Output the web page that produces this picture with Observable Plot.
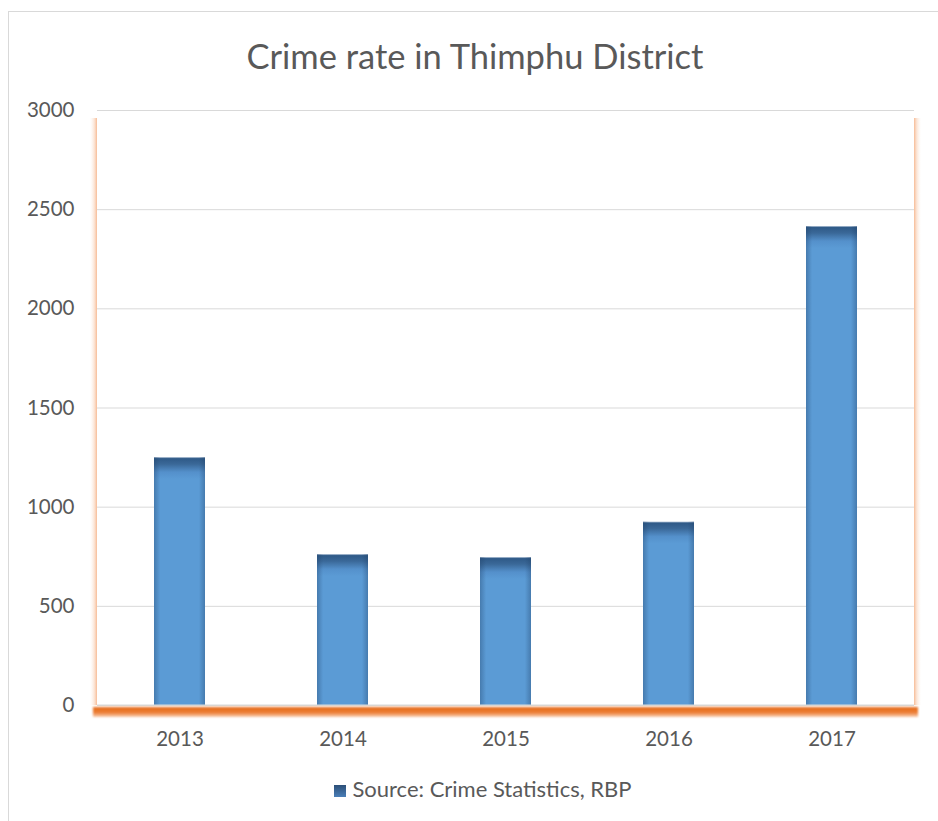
<!DOCTYPE html>
<html>
<head>
<meta charset="utf-8">
<script src="https://cdn.jsdelivr.net/npm/d3@7"></script>
<script src="https://cdn.jsdelivr.net/npm/@observablehq/plot@0.6"></script>
<style>
  html, body { margin:0; padding:0; background:#fff; width:938px; height:821px; overflow:hidden; }
  body { position:relative; font-family: Lato, "Open Sans", sans-serif; color:#595959; }
  #frame { position:absolute; left:8px; top:11px; width:960px; height:840px; border:1px solid #d9d9d9; box-sizing:border-box; }
  #title { position:absolute; left:0; top:0; width:950px; height:90px; text-align:center; line-height:112px; font-size:34.5px; color:#595959; }
  #chart { position:absolute; left:0; top:90px; }
  #legend { position:absolute; left:0; top:770px; width:966px; text-align:center; font-size:22px; color:#595959; line-height:38px; }
  #legend .sw { display:inline-block; width:12px; height:12px; background:linear-gradient(#2c4f78,#4a7fb8); margin-right:6px; vertical-align:0px; }
</style>
</head>
<body>
<div id="frame"></div>
<div id="title">Crime rate in Thimphu District</div>
<div id="chart"></div>
<div id="legend"><span class="sw"></span>Source: Crime Statistics, RBP</div>
<script>
const years = ["2013", "2014", "2015", "2016", "2017"];
const crimes = [1250, 761, 746, 925, 2415];
const yTicks = [0, 500, 1000, 1500, 2000, 2500, 3000];
const seriesName = "Source: Crime Statistics, RBP";

const data = years.map((y, i) => ({year: y, value: crimes[i]}));

function gradientBars(index, scales, values, dimensions, context, next) {
  const g = next(index, scales, values, dimensions, context);
  const defs = d3.select(g).insert("defs", ":first-child");
  d3.select(g).selectAll("rect").each(function(d, i) {
    const r = d3.select(this);
    const h = +r.attr("height");
    const id = "barg" + i;
    const lg = defs.append("linearGradient").attr("id", id).attr("x1", 0).attr("y1", 0).attr("x2", 0).attr("y2", 1);
    const stops = [[0, "#b9c9dc"], [1.5 / h, "#2f5a88"], [7 / h, "#3a6898"], [15 / h, "#5490cb"], [22 / h, "#5b9bd5"], [1, "#5b9bd5"]];
    stops.forEach(([o, c]) => lg.append("stop").attr("offset", Math.min(1, o)).attr("stop-color", c));
    r.attr("fill", `url(#${id})`);
    const x = +r.attr("x"), y = +r.attr("y"), w = +r.attr("width");
    const hg = defs.append("linearGradient").attr("id", id + "h").attr("x1", 0).attr("x2", 1).attr("y1", 0).attr("y2", 0);
    [[0, 0.35], [0.12, 0], [0.88, 0], [1, 0.35]].forEach(([o, a]) =>
      hg.append("stop").attr("offset", o).attr("stop-color", "#1f3f66").attr("stop-opacity", a));
    d3.select(g).append("rect").attr("x", x).attr("y", y).attr("width", w).attr("height", h).attr("fill", `url(#${id}h)`);
  });
  return g;
}

const plot = Plot.plot({
  width: 938,
  height: 680,
  marginTop: 20,
  marginBottom: 65,
  marginLeft: 97,
  marginRight: 24,
  style: {fontFamily: "Lato, 'Open Sans', sans-serif", color: "#595959", background: "transparent"},
  x: {domain: years, paddingInner: 0.69, paddingOuter: 0.345, label: null},
  y: {domain: [0, 3000], label: null},
  marks: [
    Plot.gridY(yTicks, {stroke: "#d9d9d9", strokeOpacity: 1, strokeWidth: 1}),
    Plot.barY(data, {x: "year", y: "value", fill: "#5b9bd5", render: gradientBars, title: d => `${seriesName}: ${d.value}`}),
    Plot.axisY(yTicks, {tickSize: 0, tickPadding: 23, fontSize: 20.5, fill: "#595959", label: null, tickFormat: d => String(d)}),
    Plot.axisX({tickSize: 0, tickPadding: 26, fontSize: 20.5, fill: "#595959", label: null})
  ]
});
document.getElementById("chart").appendChild(plot);

// decorative orange plot-area glow (edges) and base band, positioned from Plot's scales
const xs = plot.scale("x"), ys = plot.scale("y");
const x0 = xs.range[0], x1 = xs.range[1];
const yBase = ys.apply(0), yTop = ys.apply(3000);
const svg = d3.select(plot);
const defs = svg.append("defs");
const blur = defs.append("filter").attr("id", "blur").attr("x", "-50%").attr("y", "-50%").attr("width", "200%").attr("height", "200%");
blur.append("feGaussianBlur").attr("stdDeviation", 1.3);
const sideL = defs.append("linearGradient").attr("id", "sideL").attr("x1", 1).attr("x2", 0).attr("y1", 0).attr("y2", 0);
[[0, "#f6b48a", 0.9], [0.4, "#f8cbad", 0.5], [1, "#fbe5d6", 0]].forEach(([o, c, a]) => sideL.append("stop").attr("offset", o).attr("stop-color", c).attr("stop-opacity", a));
const sideR = defs.append("linearGradient").attr("id", "sideR").attr("x1", 0).attr("x2", 1).attr("y1", 0).attr("y2", 0);
[[0, "#f6b48a", 0.9], [0.4, "#f8cbad", 0.5], [1, "#fbe5d6", 0]].forEach(([o, c, a]) => sideR.append("stop").attr("offset", o).attr("stop-color", c).attr("stop-opacity", a));
const base = defs.append("linearGradient").attr("id", "baseg").attr("x1", 0).attr("x2", 0).attr("y1", 0).attr("y2", 1);
[[0, "#e46c1f"], [0.55, "#ed7d31"], [1, "#f8cfb2"]].forEach(([o, c]) => base.append("stop").attr("offset", o).attr("stop-color", c));
const deco = svg.insert("g", ":first-child");
deco.append("rect").attr("x", x0 - 7).attr("y", yTop + 8).attr("width", 7).attr("height", yBase - yTop - 8).attr("fill", "url(#sideL)");
deco.append("rect").attr("x", x1).attr("y", yTop + 8).attr("width", 7).attr("height", yBase - yTop - 8).attr("fill", "url(#sideR)");
svg.append("rect").attr("x", x0 - 4).attr("y", yBase + 2).attr("width", x1 - x0 + 8).attr("height", 10).attr("fill", "url(#baseg)").attr("filter", "url(#blur)");
svg.append("line").attr("x1", x0).attr("x2", x1).attr("y1", yBase).attr("y2", yBase).attr("stroke", "#d9d9d9");
</script>
</body>
</html>
